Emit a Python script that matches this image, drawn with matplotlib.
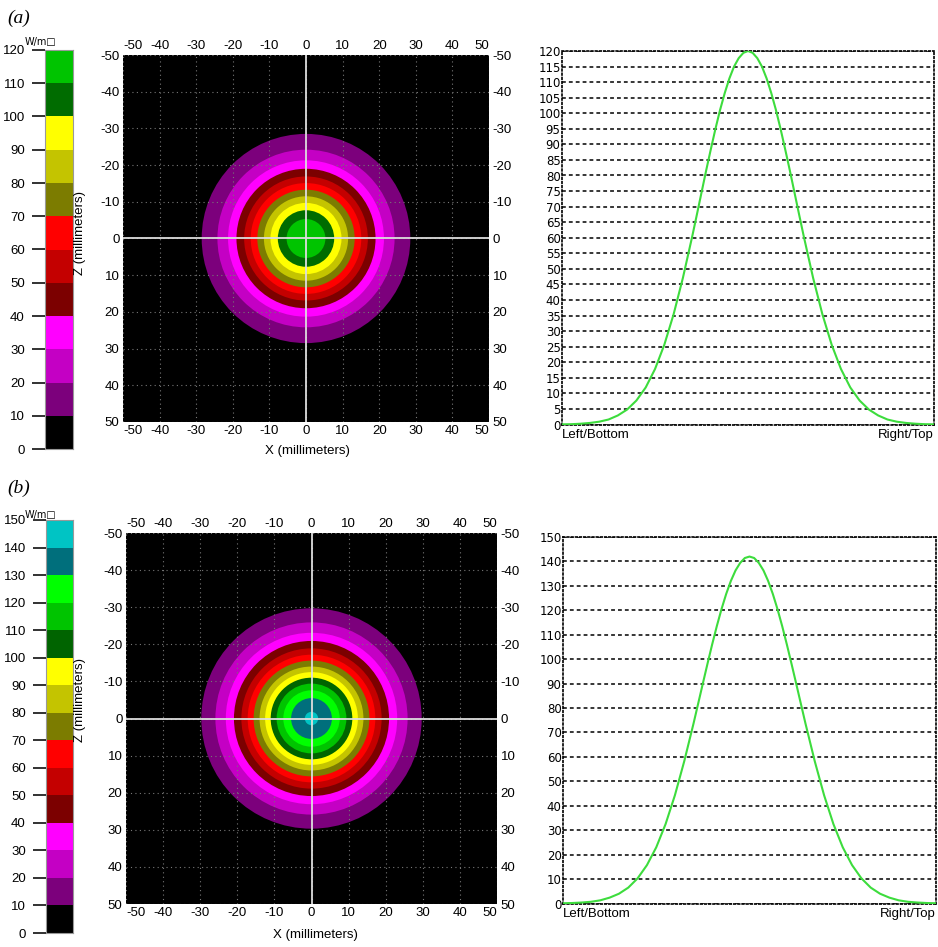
import matplotlib
matplotlib.use("Agg")
import matplotlib.pyplot as plt
from matplotlib.colors import ListedColormap, BoundaryNorm
from matplotlib.patches import Circle
from matplotlib.lines import Line2D
from matplotlib.transforms import blended_transform_factory

# ---------------- data ----------------
levels_a = [0, 10, 20, 30, 40, 50, 60, 70, 80, 90, 100, 110, 120]
colors_a = ["#000000", "#7c007c", "#c400c4", "#ff00ff", "#7c0000", "#c40000",
            "#ff0000", "#7c7c00", "#c4c400", "#ffff00", "#006c00", "#00c400"]
levels_b = [0, 10, 20, 30, 40, 50, 60, 70, 80, 90, 100, 110, 120, 130, 140, 150]
colors_b = ["#000000", "#7c007c", "#c400c4", "#ff00ff", "#7c0000", "#c40000",
            "#ff0000", "#7c7c00", "#c4c400", "#ffff00", "#006400", "#00c400",
            "#00ff00", "#006f7c", "#00c4c4"]

# outer radius (mm) of the region at or above each contour level
ring_levels_a = [10, 20, 30, 40, 50, 60, 70, 80, 90, 100, 110]
ring_radii_a = [28.5, 24.2, 21.3, 19.0, 16.9, 15.1, 13.3, 11.5, 9.7, 7.7, 5.3]
ring_levels_b = [10, 20, 30, 40, 50, 60, 70, 80, 90, 100, 110, 120, 130, 140]
ring_radii_b = [29.7, 25.9, 23.1, 20.9, 18.9, 17.2, 15.6, 14.0, 12.5, 11.0, 9.4, 7.6, 5.5, 1.8]

# line profile through the centre (mm -> W/m2)
profile_pos = [-50, -47.5, -45, -42.5, -40, -37.5, -35, -32.5, -30, -27.5, -25,
               -22.5, -20, -17.5, -15, -13.75, -12.5, -11.25, -10, -8.75, -7.5,
               -6.25, -5, -3.75, -2.5, -1.25, 0,
               1.25, 2.5, 3.75, 5, 6.25, 7.5, 8.75, 10, 11.25, 12.5, 13.75, 15,
               17.5, 20, 22.5, 25, 27.5, 30, 32.5, 35, 37.5, 40, 42.5, 45, 47.5, 50]
profile_a = [0.05, 0.1, 0.25, 0.5, 0.9, 1.6, 2.9, 4.8, 7.7, 11.9, 17.8,
             25.6, 35.4, 47.1, 60.4, 67.4, 74.5, 81.6, 88.4, 95.0, 101.1,
             106.5, 111.2, 115.0, 117.7, 119.4, 120.0,
             119.4, 117.7, 115.0, 111.2, 106.5, 101.1, 95.0, 88.4, 81.6, 74.5, 67.4, 60.4,
             47.1, 35.4, 25.6, 17.8, 11.9, 7.7, 4.8, 2.9, 1.6, 0.9, 0.5, 0.25, 0.1, 0.05]
profile_b = [0.1, 0.2, 0.4, 0.7, 1.3, 2.4, 4.0, 6.5, 10.3, 15.7, 23.0,
             32.5, 44.3, 58.2, 73.7, 81.9, 90.1, 98.2, 106.1, 113.6, 120.5,
             126.7, 132.0, 136.3, 139.4, 141.4, 142.0,
             141.4, 139.4, 136.3, 132.0, 126.7, 120.5, 113.6, 106.1, 98.2, 90.1, 81.9, 73.7,
             58.2, 44.3, 32.5, 23.0, 15.7, 10.3, 6.5, 4.0, 2.4, 1.3, 0.7, 0.4, 0.2, 0.1]

mm_ticks = [-50, -40, -30, -20, -10, 0, 10, 20, 30, 40, 50]
profile_ticks_a = list(range(0, 125, 5))
profile_ticks_b = list(range(0, 160, 10))

# ---------------- figure ----------------
W, H = 938, 947
plt.rcParams["font.family"] = ["Liberation Sans", "DejaVu Sans"]
plt.rcParams["axes.unicode_minus"] = False
fig = plt.figure(figsize=(W / 100, H / 100), dpi=100)


def px(x0, y0, x1, y1):
    return [x0 / W, 1 - y1 / H, (x1 - x0) / W, (y1 - y0) / H]


def colorbar(rect, levels, colors, label_y):
    cax = fig.add_axes(px(*rect))
    lows = levels[:-1]
    heights = [hi - lo for lo, hi in zip(levels[:-1], levels[1:])]
    cax.bar([0] * len(lows), heights, bottom=lows, width=1.0, color=colors,
            edgecolor="none", align="center")
    cax.set_xlim(-0.5, 0.5)
    cax.set_ylim(levels[0], levels[-1])
    cax.set_xticks([])
    cax.set_yticks(levels)
    cax.tick_params(axis="y", length=0, pad=14.5, labelsize=9.5)
    # tick marks: short figure-level lines to the left of the bar
    trans = blended_transform_factory(fig.transFigure, cax.transData)
    x0 = (rect[0] - 13) / W
    x1 = rect[0] / W
    for lev in levels:
        fig.add_artist(Line2D([x0, x1], [lev, lev], transform=trans,
                              color="#222222", lw=1.3, solid_capstyle="butt",
                              zorder=10))
    for s in cax.spines.values():
        s.set_edgecolor("#999999")
        s.set_linewidth(0.8)
    fig.text(40 / W, 1 - label_y / H, "W/m\u25a1", fontsize=7, ha="center",
             va="center", family=["DejaVu Sans"])


def heatmap(rect, ring_levels, ring_radii, levels, colors, zlabel_y, xlabel_xy):
    ax = fig.add_axes(px(*rect))
    ax.set_facecolor("black")
    cmap = ListedColormap(colors)
    norm = BoundaryNorm(levels, cmap.N)
    for i, (lev, r) in enumerate(zip(ring_levels, ring_radii)):
        ax.add_patch(Circle((0, 0), r, facecolor=cmap(norm(lev)), edgecolor="none",
                            zorder=1 + i))
    ax.set_xlim(-50, 50)
    ax.set_ylim(50, -50)
    ax.set_xticks(mm_ticks)
    ax.set_yticks(mm_ticks)
    ax.tick_params(top=True, labeltop=True, right=True, labelright=True,
                   length=0, pad=2.5, labelsize=9.5)
    xt = ax.xaxis.get_major_ticks()
    for lab in (xt[0].label1, xt[0].label2):
        lab.set_horizontalalignment("left")
    for lab in (xt[-1].label1, xt[-1].label2):
        lab.set_horizontalalignment("right")
    ax.grid(True, color="#777777", linestyle=(0, (1, 3)), linewidth=0.8, zorder=30)
    ax.set_axisbelow(False)
    ax.axhline(0, color="#dddddd", lw=1.3, zorder=40)
    ax.axvline(0, color="#dddddd", lw=1.3, zorder=40)
    for s in ax.spines.values():
        s.set_visible(False)
    fig.text(80 / W, 1 - zlabel_y / H, "Z (millimeters)", rotation=90,
             fontsize=9.5, ha="center", va="center")
    fig.text(xlabel_xy[0] / W, 1 - xlabel_xy[1] / H, "X (millimeters)",
             fontsize=9.5, ha="center", va="center")
    return ax


def profile(rect, values, ticks, ymax):
    ax = fig.add_axes(px(*rect))
    ax.plot(profile_pos, values, color="#3ddc3d", lw=1.5, zorder=5)
    ax.set_xlim(-50, 50)
    ax.set_ylim(0, ymax)
    ax.set_xticks([])
    ax.set_yticks(ticks)
    ax.tick_params(axis="y", length=0, pad=1)
    for lab in ax.get_yticklabels():
        lab.set_family(["DejaVu Sans"])
        lab.set_fontsize(8.5)
    for t in ticks:
        ax.axhline(t, color="black", lw=1.1, linestyle=(0, (2.5, 2)), zorder=1)
    for s in ax.spines.values():
        s.set_linestyle((0, (1, 1.5)))
        s.set_linewidth(1.2)
        s.set_color("black")
    ax.text(0, -0.012, "Left/Bottom", transform=ax.transAxes, ha="left", va="top",
            fontsize=9.5)
    ax.text(1, -0.012, "Right/Top", transform=ax.transAxes, ha="right", va="top",
            fontsize=9.5)
    return ax


# panel (a)
fig.text(7 / W, 1 - 18 / H, "(a)", fontsize=14, style="italic",
         family=["Liberation Serif", "DejaVu Serif"], va="center", ha="left")
colorbar((45, 50, 72.5, 449), levels_a, colors_a, 42)
heatmap((123, 55, 489, 422), ring_levels_a, ring_radii_a, levels_a, colors_a,
        233, (307, 451))
profile((562, 51, 934, 424.5), profile_a, profile_ticks_a, 120)

# panel (b)
fig.text(7 / W, 1 - 488 / H, "(b)", fontsize=14, style="italic",
         family=["Liberation Serif", "DejaVu Serif"], va="center", ha="left")
colorbar((46, 520, 73, 933), levels_b, colors_b, 515)
heatmap((126, 533, 497, 904), ring_levels_b, ring_radii_b, levels_b, colors_b,
        700, (315, 935))
profile((563, 537, 936, 903.5), profile_b, profile_ticks_b, 150)

fig.savefig("out.png", dpi=100)
